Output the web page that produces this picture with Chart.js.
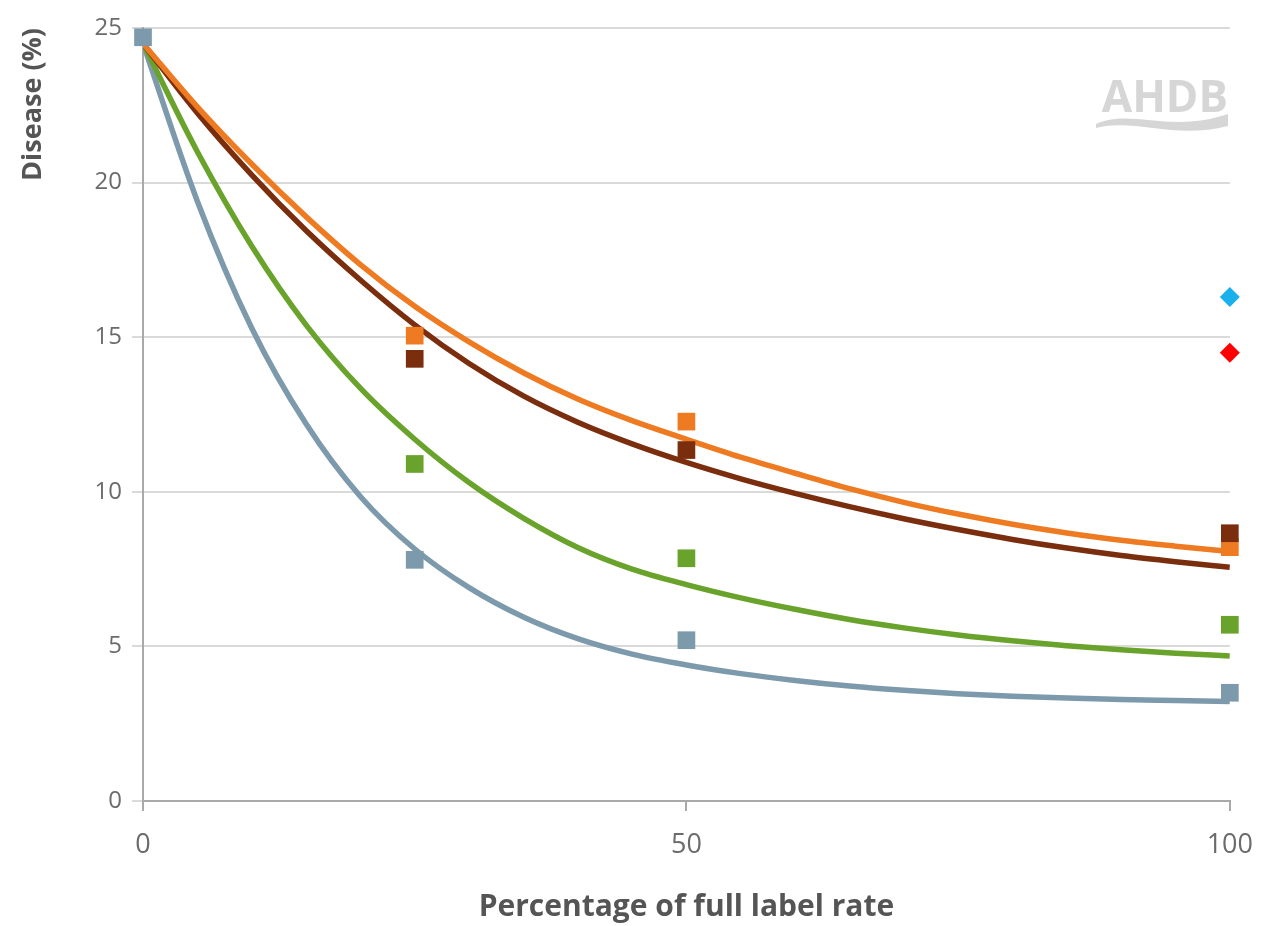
<!DOCTYPE html>
<html>
  <head>
    <meta charset="utf-8" />
    <title>Disease vs percentage of full label rate</title>
    <script src="https://cdn.jsdelivr.net/npm/chart.js@4"></script>
    <style>
      body { margin: 0; background: #fff; }
      #wrap { width: 1271px; height: 926px; position: relative; }
    </style>
  </head>
  <body>
    <div id="wrap">
      <canvas id="doseCanvas"></canvas>
    </div>
    <script>
      // Fitted dose-response curves, sampled every 5% of label rate
      const rateSteps = [0, 5, 10, 15, 20, 25, 30, 35, 40, 45, 50, 55, 60, 65, 70, 75, 80, 85, 90, 95, 100];
      const curveOrange = [24.5, 22.45, 20.6, 18.9, 17.35, 16.0, 14.85, 13.85, 13.0, 12.3, 11.7, 11.12, 10.6, 10.1, 9.66, 9.28, 8.95, 8.67, 8.43, 8.24, 8.07];
      const curveBrown = [24.5, 22.25, 20.25, 18.45, 16.85, 15.4, 14.15, 13.1, 12.25, 11.55, 10.95, 10.42, 9.95, 9.52, 9.13, 8.78, 8.46, 8.18, 7.94, 7.74, 7.56];
      const curveGreen = [24.5, 21.0, 17.95, 15.4, 13.35, 11.7, 10.3, 9.15, 8.2, 7.5, 7.0, 6.57, 6.2, 5.87, 5.6, 5.37, 5.18, 5.02, 4.89, 4.78, 4.69];
      const curveGrey = [24.5, 19.4, 15.3, 12.2, 9.85, 8.15, 6.9, 5.95, 5.25, 4.75, 4.4, 4.12, 3.9, 3.72, 3.58, 3.47, 3.39, 3.33, 3.28, 3.25, 3.22];

      // Observed disease at each dose (null = not measured)
      const doseLevels = [0, 25, 50, 100];
      const obsGrey = [24.7, 7.8, 5.2, 3.5];
      const obsGreen = [null, 10.9, 7.85, 5.7];
      const obsBrown = [null, 14.3, 11.35, 8.66];
      const obsOrange = [null, 15.05, 12.27, 8.21];

      // Single-treatment references at full rate
      const refDose = [100];
      const refCyan = [16.3];
      const refRed = [14.5];

      const xTicks = [0, 50, 100];
      const yTicks = [0, 5, 10, 15, 20, 25];

      const colours = {
        orange: "#ee7a22",
        brown: "#7b2e0e",
        green: "#6aa32c",
        grey: "#7c9aab",
        cyan: "#1ab0ec",
        red: "#ff0000",
      };

      function curve(values, colour) {
        return {
          data: rateSteps.map((x, i) => ({ x: x, y: values[i] })),
          showLine: true,
          pointRadius: 0,
          borderColor: colour,
          borderWidth: 5.5,
          cubicInterpolationMode: "monotone",
          order: 10,
        };
      }

      function points(xs, values, colour, style, radius, order) {
        const data = [];
        xs.forEach((x, i) => {
          if (values[i] !== null) data.push({ x: x, y: values[i] });
        });
        return {
          data: data,
          showLine: false,
          clip: false,
          pointStyle: style,
          pointRadius: radius,
          pointBorderWidth: 0,
          backgroundColor: colour,
          borderColor: colour,
          order: order,
        };
      }

      // faint AHDB mark in the top right corner
      const logoPlugin = {
        id: "logo",
        afterDraw(chart) {
          const ctx = chart.ctx;
          ctx.save();
          ctx.fillStyle = "#d6d6d6";
          ctx.font = "bold 44px 'Open Sans', sans-serif";
          ctx.textAlign = "right";
          ctx.textBaseline = "alphabetic";
          ctx.fillText("AHDB", 1228, 112);
          ctx.beginPath();
          ctx.moveTo(1096, 124);
          ctx.bezierCurveTo(1130, 108, 1170, 134, 1228, 114);
          ctx.lineTo(1228, 126);
          ctx.bezierCurveTo(1175, 140, 1135, 118, 1096, 128);
          ctx.closePath();
          ctx.fill();
          ctx.restore();
        },
      };

      Chart.defaults.font.family = "'Open Sans', sans-serif";
      Chart.defaults.color = "#666";

      const ctx = document.getElementById("doseCanvas").getContext("2d");
      new Chart(ctx, {
        type: "scatter",
        data: {
          datasets: [
            curve(curveOrange, colours.orange),
            curve(curveBrown, colours.brown),
            curve(curveGreen, colours.green),
            curve(curveGrey, colours.grey),
            points(doseLevels, obsOrange, colours.orange, "rect", 12.5, 5),
            points(doseLevels, obsBrown, colours.brown, "rect", 12.5, 4),
            points(doseLevels, obsGreen, colours.green, "rect", 12.5, 3),
            points(doseLevels, obsGrey, colours.grey, "rect", 12.5, 2),
            points(refDose, refCyan, colours.cyan, "rectRot", 10, 1),
            points(refDose, refRed, colours.red, "rectRot", 10, 1),
          ],
        },
        options: {
          responsive: true,
          maintainAspectRatio: false,
          animation: false,
          layout: { padding: { top: 28, right: 40, bottom: 0, left: 0 } },
          plugins: {
            legend: { display: false },
            tooltip: { enabled: false },
          },
          scales: {
            x: {
              type: "linear",
              min: 0,
              max: 100,
              afterBuildTicks: (scale) => {
                scale.ticks = xTicks.map((v) => ({ value: v }));
              },
              afterFit: (scale) => {
                scale.height = 125;
              },
              grid: {
                drawOnChartArea: false,
                tickLength: 10,
                color: "#a9a9a9",
                lineWidth: 2,
              },
              border: { color: "#a9a9a9", width: 2 },
              ticks: {
                padding: 18,
                font: { size: 27 },
                color: "#6b6b6b",
              },
              title: {
                display: true,
                text: "Percentage of full label rate",
                color: "#555",
                font: { size: 30, weight: "bold" },
                padding: { top: 0, bottom: 1 },
              },
            },
            y: {
              type: "linear",
              min: 0,
              max: 25,
              afterBuildTicks: (scale) => {
                scale.ticks = yTicks.map((v) => ({ value: v }));
              },
              afterFit: (scale) => {
                scale.width = 143;
              },
              grid: {
                color: "#dadada",
                lineWidth: 2,
                tickLength: 11,
              },
              border: { color: "#a9a9a9", width: 2 },
              ticks: {
                padding: 10,
                font: { size: 24 },
                color: "#6b6b6b",
              },
              title: {
                display: true,
                text: "Disease (%)",
                align: "end",
                color: "#555",
                font: { size: 27, weight: "bold" },
                padding: { top: 17, bottom: 0 },
              },
            },
          },
        },
        plugins: [logoPlugin],
      });
    </script>
  </body>
</html>
